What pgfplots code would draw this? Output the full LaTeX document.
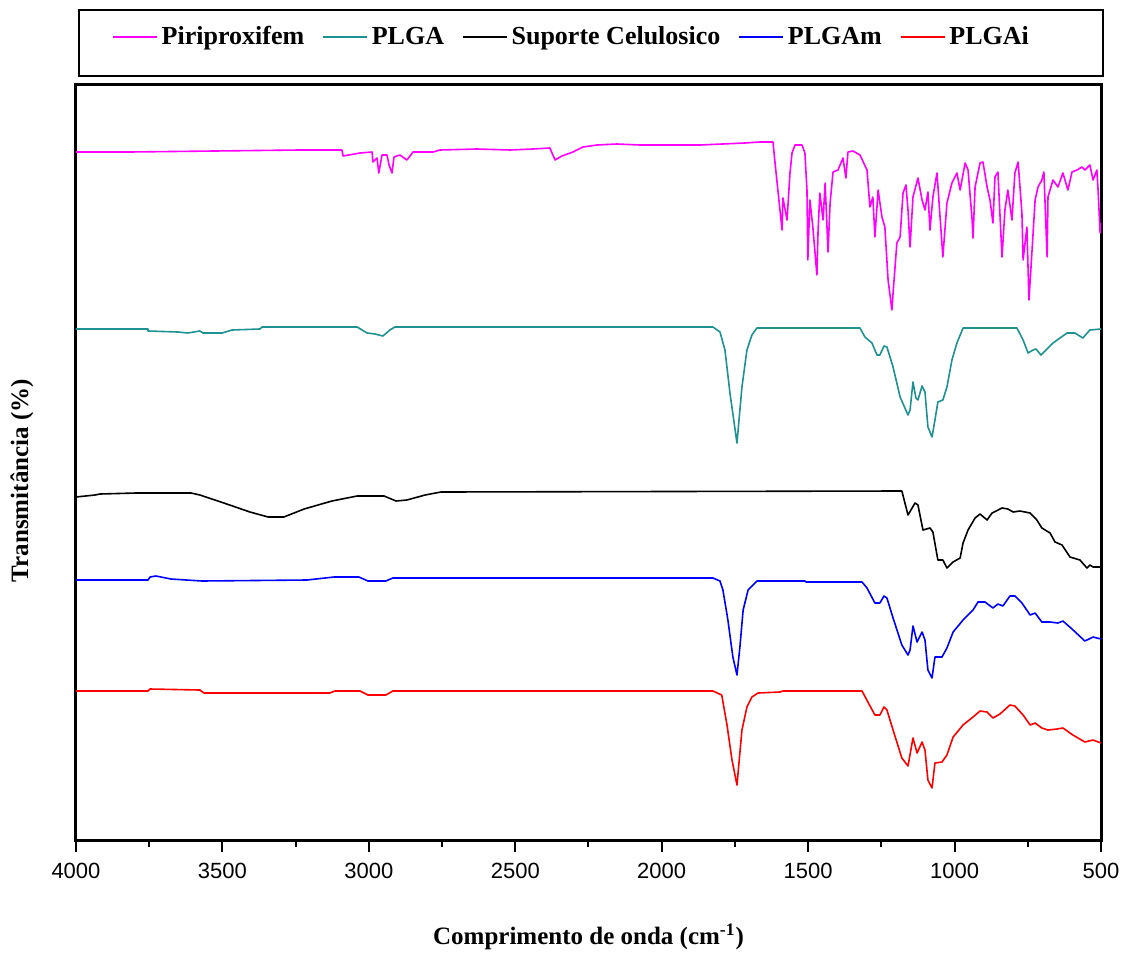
\documentclass[border=0pt]{standalone}
\usepackage{fontspec}
\setmainfont{Liberation Serif}
\newfontfamily\arialfont{Liberation Sans}
\usepackage{pgfplots}
\pgfplotsset{compat=1.18}

\definecolor{piri}{RGB}{255,0,255}
\definecolor{plga}{RGB}{30,145,145}
\definecolor{plgam}{RGB}{0,0,255}
\definecolor{plgai}{RGB}{255,0,0}

\begin{document}
\begin{tikzpicture}
% page frame
\path[use as bounding box] (-38pt,-57pt) rectangle (523pt,420pt);
% legend frame
\draw[line width=1pt] (1.5pt,382pt) rectangle (513.5pt,415pt);
\begin{axis}[
  at={(0,0)}, anchor=south west,
  scale only axis,
  width=512.5pt, height=377.5pt,
  x dir=reverse,
  xmin=500, xmax=4000,
  ymin=0, ymax=755,
  xtick={500,1000,...,4000},
  minor x tick num=1,
  xtick pos=bottom,
  ytick=\empty,
  tick align=outside,
  major tick length=6pt,
  minor tick length=3.5pt,
  every tick/.style={black, line width=1pt},
  axis line style={line width=1.5pt},
  /pgf/number format/assume math mode=true,
  /pgf/number format/1000 sep={},
  xticklabel style={font=\arialfont\fontsize{11}{13}\selectfont, yshift=-2pt},
  xlabel={Comprimento de onda (cm\textsuperscript{-1})},
  ylabel={Transmitância (\%)},
  xlabel style={font=\bfseries\fontsize{12.5}{15}\selectfont, at={(axis description cs:0.5,-0.1285)}, anchor=center},
  ylabel style={font=\bfseries\fontsize{12.5}{15}\selectfont, at={(axis description cs:-0.0527,0.476)}, anchor=center},
  legend columns=5,
  legend style={draw=none, fill=none, at={(axis description cs:0.4844,1.0636)}, anchor=center,
    font=\bfseries\fontsize{13}{15}\selectfont,
    /tikz/every even column/.append style={column sep=7pt}},
  legend image code/.code={\draw[#1] (0pt,0pt) -- (22pt,0pt);},
  every axis plot/.append style={line width=0.8pt, line join=round},
]

% Piriproxifem
\addplot[piri] coordinates {
(4000,688) (3816,688) (3235,690) (3092,690) (3088,684) (3030,687) (2989,688)
(2986,678) (2972,682) (2966,667) (2955,685) (2938,685) (2931,675) (2921,667)
(2914,683) (2894,685) (2870,680) (2849,688) (2781,688) (2757,690) (2631,691)
(2518,690) (2440,691) (2382,692) (2364,680) (2341,684) (2303,688) (2269,693)
(2221,695) (2153,696) (2074,695) (1869,695) (1716,697) (1664,698) (1620,698)
(1613,677) (1589,610) (1586,642) (1572,620) (1562,667) (1555,687) (1545,695)
(1521,695) (1511,687) (1504,650) (1501,580) (1494,640) (1484,613) (1470,565)
(1466,610) (1460,647) (1449,620) (1442,657) (1432,588) (1425,637) (1415,668)
(1398,670) (1381,682) (1371,662) (1364,688) (1347,689) (1323,685) (1299,670)
(1289,633) (1279,643) (1272,603) (1261,650) (1248,623) (1238,613) (1227,560)
(1214,530) (1210,547) (1197,597) (1186,603) (1176,647) (1166,655) (1159,630)
(1152,593) (1142,643) (1125,662) (1111,640) (1101,630) (1091,648) (1084,610)
(1074,643) (1060,667) (1040,583) (1026,637) (1009,657) (992,667) (981,650)
(964,677) (954,670) (940,620) (937,602) (930,653) (913,677) (903,678)
(889,653) (879,640) (869,617) (862,663) (852,668) (838,583) (828,630)
(818,650) (804,620) (794,667) (783,678) (770,627) (766,580) (753,613)
(746,540) (736,587) (725,640) (715,653) (702,660) (695,668) (684,583)
(681,643) (664,660) (647,653) (630,667) (613,650) (599,668) (582,670)
(565,673) (555,670) (538,675) (527,660) (514,670) (510,650) (503,607) (500,617)
};
\addlegendentry{Piriproxifem}

% PLGA
\addplot[plga] coordinates {
(4000,511) (3754,511) (3754,509) (3652,508) (3618,507) (3577,509) (3566,507)
(3501,507) (3467,510) (3372,511) (3365,513) (3040,513) (3006,507) (2979,506)
(2952,504) (2928,510) (2911,513) (1825,513) (1801,508) (1784,490) (1767,447)
(1743,397) (1726,453) (1709,490) (1692,505) (1675,512) (1323,512) (1306,503)
(1282,497) (1265,485) (1255,485) (1241,494) (1231,493) (1210,473) (1186,443)
(1159,425) (1152,430) (1142,458) (1132,442) (1125,440) (1111,454) (1101,448)
(1091,413) (1077,403) (1067,420) (1057,438) (1040,440) (1026,453) (1009,480)
(992,497) (971,512) (787,512) (766,500) (749,487) (732,490) (722,491)
(705,485) (664,497) (616,507) (589,507) (562,502) (538,510) (500,511)
};
\addlegendentry{PLGA}

% Suporte Celulosico
\addplot[black] coordinates {
(4000,343) (3935,345) (3918,346) (3795,347) (3607,347) (3577,345) (3505,338)
(3406,328) (3344,323) (3290,323) (3221,331) (3126,339) (3040,344) (2948,344)
(2907,339) (2870,340) (2808,345) (2754,348) (1180,349) (1159,325) (1135,337)
(1125,335) (1108,310) (1084,312) (1074,308) (1057,280) (1040,280) (1026,272)
(1005,278) (981,282) (971,297) (954,310) (930,322) (913,326) (889,320)
(872,327) (838,332) (818,331) (800,328) (777,329) (742,327) (719,320)
(702,312) (674,307) (657,298) (633,295) (606,283) (572,280) (548,272)
(538,275) (527,273) (500,273)
};
\addlegendentry{Suporte Celulosico}

% PLGAm
\addplot[plgam] coordinates {
(4000,260) (3754,260) (3747,263) (3727,264) (3676,261) (3570,259) (3211,260)
(3119,263) (3034,263) (3003,259) (2942,259) (2918,262) (1825,262) (1801,259)
(1791,250) (1774,220) (1757,183) (1743,165) (1733,193) (1722,230) (1705,250)
(1675,259) (1511,259) (1507,258) (1316,258) (1299,252) (1272,237) (1255,237)
(1241,244) (1231,242) (1210,222) (1180,195) (1159,185) (1152,190) (1142,214)
(1128,198) (1111,208) (1101,200) (1091,170) (1077,162) (1067,183) (1043,183)
(1026,192) (1005,208) (971,220) (937,230) (920,238) (896,238) (869,232)
(852,236) (835,234) (811,244) (794,244) (770,237) (742,225) (725,227)
(702,218) (674,218) (647,217) (630,219) (599,211) (555,199) (527,203) (500,201)
};
\addlegendentry{PLGAm}

% PLGAi
\addplot[plgai] coordinates {
(4000,149) (3754,149) (3747,151) (3577,150) (3563,147) (3133,147) (3116,149)
(3030,149) (3003,145) (2942,145) (2918,149) (1825,149) (1795,145) (1777,115)
(1760,80) (1743,55) (1726,110) (1709,133) (1692,143) (1671,147) (1596,148)
(1586,149) (1316,149) (1296,138) (1272,125) (1255,125) (1241,133) (1231,130)
(1210,110) (1180,82) (1159,74) (1142,102) (1128,87) (1111,98) (1101,90)
(1091,60) (1077,52) (1067,77) (1043,78) (1026,85) (1005,103) (971,115)
(937,123) (913,129) (889,128) (869,122) (845,126) (811,135) (794,134)
(766,125) (742,115) (725,117) (702,112) (681,110) (650,111) (630,112)
(596,105) (555,98) (527,100) (500,97)
};
\addlegendentry{PLGAi}

\end{axis}
\end{tikzpicture}
\end{document}
